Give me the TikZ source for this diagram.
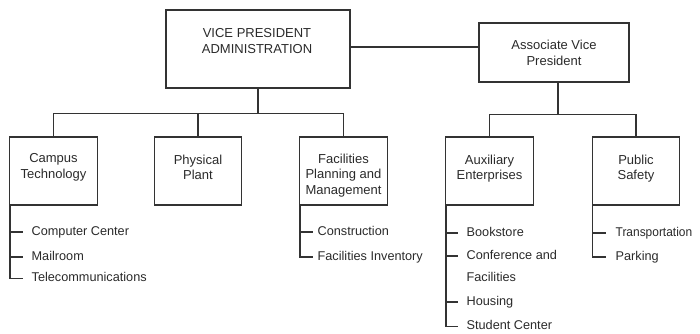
\documentclass[tikz,border=0pt]{standalone}
\usepackage{fontspec}
\setmainfont{Liberation Sans}
\definecolor{ink}{HTML}{333333}
\definecolor{txt}{HTML}{2A2A2A}
\begin{document}
\begin{tikzpicture}[x=1pt,y=-1pt,
  line width=1.3pt, draw=ink, line cap=rect,
  box/.style={draw=ink, line width=1.4pt, inner sep=0pt, minimum width=87.5pt, minimum height=68pt},
  boxtext/.style={text=txt, align=center, inner sep=0pt,
    font=\fontsize{13}{15.5}\selectfont},
  item/.style={text=txt, anchor=west, inner sep=0pt, text height=9.5pt, text depth=2.7pt,
    font=\fontsize{12.7}{15}\selectfont},
  tick/.style={line width=1.2pt, line cap=butt}]
\useasboundingbox (0,0) rectangle (700,333);

% top level boxes
\node[box, minimum width=184pt, minimum height=78pt] (vp) at (258,49) {};
\node[boxtext] (vptext) at (257,41) {VICE PRESIDENT\\ADMINISTRATION};
\node[box, minimum width=150pt, minimum height=59pt] (avp) at (554,52.5) {};
\node[boxtext] (avptext) at (554,53) {Associate Vice\\President};

% departments
\node[box] (campus) at (53.5,171) {};
\node[boxtext] (campustext) at (53.5,167.5) {Campus\\Technology};
\node[box] (phys) at (198,171) {};
\node[boxtext] (physttext) at (198,167.5) {Physical\\Plant};
\node[box] (facil) at (343.5,171) {};
\node[boxtext] (faciltext) at (343.5,175.5) {Facilities\\Planning and\\Management};
\node[box] (aux) at (489.5,171) {};
\node[boxtext] (auxtext) at (489.5,168.5) {Auxiliary\\Enterprises};
\node[box] (pub) at (636,171) {};
\node[boxtext] (pubtext) at (636,168.5) {Public\\Safety};

% reporting lines
\draw ([yshift=2pt]vp.east) -- ([yshift=2pt]vp.east -| avp.west);
\draw (vp.south) -- ++(0,25) coordinate (busA);
\draw (campus.north) |- (busA) -| (facil.north);
\draw (phys.north) -- (phys.north |- busA);
\draw ([xshift=4pt]avp.south) -- ++(0,32) coordinate (busB);
\draw (aux.north) |- (busB) -| (pub.north);

% units under Campus Technology
\node[item] (cc) at (31,232) {Computer Center};
\node[item] (mail) at (31,257) {Mailroom};
\node[item] (tel) at (31,278.5) {Telecommunications};
\coordinate (cl) at ([xshift=1pt]campus.south west);
\draw[tick] (cl) |- ([xshift=-8pt]tel.west);
\foreach \n in {cc,mail} \draw[tick] (cl |- \n.west) -- ([xshift=-8pt]\n.west);

% units under Facilities Planning and Management
\node[item] (constr) at (317,232) {Construction};
\node[item] (finv) at (317,257) {Facilities Inventory};
\coordinate (fl) at ([xshift=1pt]facil.south west);
\draw[tick] (fl) |- ([xshift=-4pt]finv.west);
\draw[tick] (fl |- constr.west) -- ([xshift=-4pt]constr.west);

% units under Auxiliary Enterprises
\node[item] (book) at (466,233) {Bookstore};
\node[item] (conf) at (466,256) {Conference and};
\node[item] (conf2) at (466,278) {Facilities};
\node[item] (house) at (466,302) {Housing};
\node[item] (stud) at (466,326.5) {Student Center};
\coordinate (al) at ([xshift=1pt]aux.south west);
\draw[tick] (al) |- ([xshift=-8pt]stud.west);
\foreach \n in {book,conf,house} \draw[tick] (al |- \n.west) -- ([xshift=-8pt]\n.west);

% units under Public Safety
\node[item] (trans) at (615,233) {\scalebox{0.94}[1]{Transportation}};
\node[item] (park) at (615,257) {Parking};
\coordinate (pl) at ([xshift=1pt]pub.south west);
\draw[tick] (pl) |- ([xshift=-9pt]park.west);
\draw[tick] (pl |- trans.west) -- ([xshift=-9pt]trans.west);
\end{tikzpicture}
\end{document}
